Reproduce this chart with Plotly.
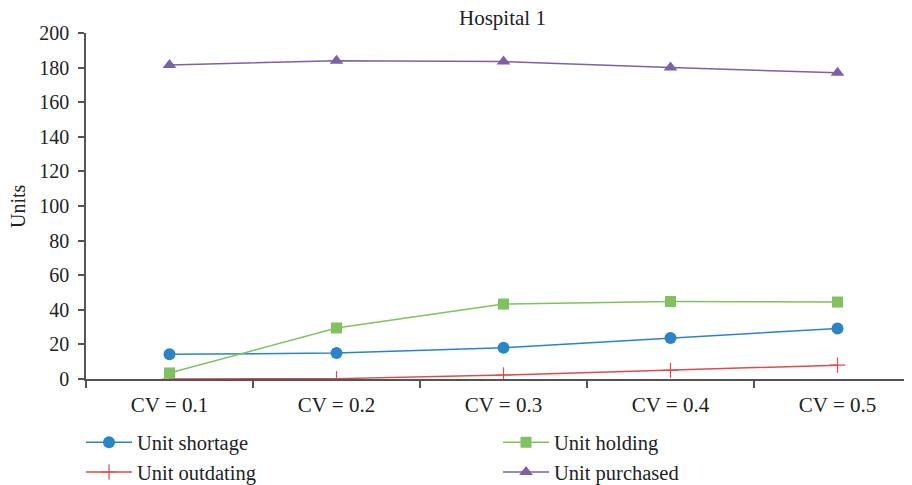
import plotly.graph_objects as go

categories = ["CV = 0.1", "CV = 0.2", "CV = 0.3", "CV = 0.4", "CV = 0.5"]
shortage = [14.3, 15.0, 18.0, 23.7, 29.2]
holding = [3.5, 29.5, 43.3, 44.8, 44.5]
outdating = [0.0, 0.2, 2.3, 5.0, 8.0]
purchased = [181.5, 184.0, 183.5, 180.0, 177.0]
y_ticks = [0, 20, 40, 60, 80, 100, 120, 140, 160, 180, 200]

FONT = "Liberation Serif"
FS = 20
FX = 21
W, H = 904, 477  # page body adds an 8px offset

fig = go.Figure()
fig.add_trace(go.Scatter(x=categories, y=shortage, name="Unit shortage", mode="lines+markers",
                         line=dict(color="#2b84c6", width=1.5), legend="legend",
                         marker=dict(symbol="circle", size=12, color="#2b84c6")))
fig.add_trace(go.Scatter(x=categories, y=outdating, name="Unit outdating", mode="lines+markers",
                         line=dict(color="#e04a4e", width=1.5), legend="legend",
                         marker=dict(symbol="cross-thin", size=11, color="#e04a4e",
                                     line=dict(color="#e04a4e", width=1.2))))
fig.add_trace(go.Scatter(x=categories, y=holding, name="Unit holding", mode="lines+markers",
                         line=dict(color="#80c160", width=1.5), legend="legend2",
                         marker=dict(symbol="square", size=11, color="#80c160")))
fig.add_trace(go.Scatter(x=categories, y=purchased, name="Unit purchased", mode="lines+markers",
                         line=dict(color="#7c61a9", width=1.5), legend="legend2",
                         marker=dict(symbol="triangle-up", size=12, color="#7c61a9")))

leg_common = dict(orientation="v", xref="container", yref="container", xanchor="left",
                  yanchor="top", y=0.131, font=dict(family=FONT, size=20.5, color="#222"),
                  traceorder="normal", itemwidth=46, bgcolor="rgba(0,0,0,0)")

fig.update_layout(
    width=W, height=H,
    margin=dict(l=78, r=0, t=25, b=106, autoexpand=False),
    paper_bgcolor="white", plot_bgcolor="white",
    font=dict(family=FONT, size=FS, color="#222"),
    title=dict(text="Hospital 1", x=0.547, xanchor="center", yref="container", y=1.0,
               yanchor="top", pad=dict(t=2), font=dict(family=FONT, size=FX, color="#222")),
    showlegend=True,
    legend=dict(x=73 / W, **leg_common),
    legend2=dict(x=490 / W, **leg_common),
    annotations=[dict(text="Units", textangle=-90, xref="paper", yref="paper",
                      x=-68 / 826, y=0.5, xanchor="center", yanchor="middle",
                      showarrow=False, font=dict(family=FONT, size=FS, color="#222"))],
)
fig.update_xaxes(range=[-0.5, 4.446], showline=True, linecolor="#555", linewidth=1.5, ticks="outside",
                 tickson="boundaries", ticklen=7, tickcolor="#555", tickwidth=1.5,
                 ticklabelstandoff=6,
                 showgrid=False, zeroline=False, tickfont=dict(family=FONT, size=FX))
fig.update_yaxes(range=[0, 200], tickvals=y_ticks, showline=True, linecolor="#555", linewidth=1.5,
                 ticks="outside", ticklen=6, tickcolor="#555", tickwidth=1.5,
                 ticklabelstandoff=5,
                 showgrid=False, zeroline=False, tickfont=dict(family=FONT, size=FS))

fig.write_html("out.html")
